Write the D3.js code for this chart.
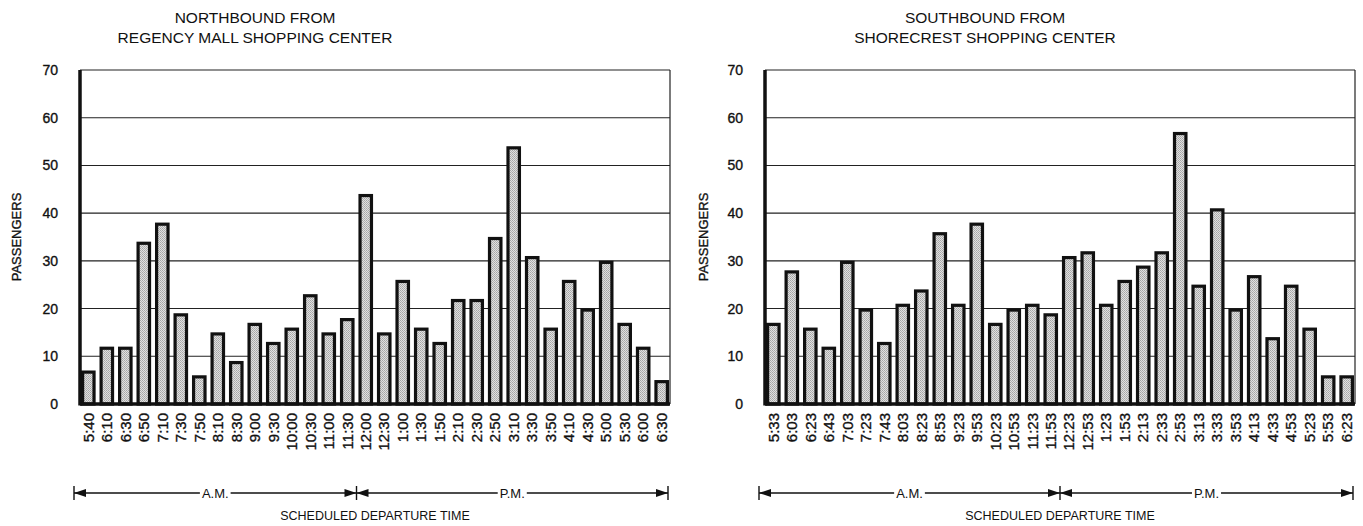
<!DOCTYPE html>
<html>
<head>
<meta charset="utf-8">
<script src="https://cdn.jsdelivr.net/npm/d3@7"></script>
<style>
  html, body { margin: 0; padding: 0; background: #fff; }
  svg text { font-family: "Liberation Sans", Arial, Helvetica, sans-serif; fill: #111; }
  svg text.heavy { stroke: #111; stroke-width: 0.35px; }
</style>
</head>
<body>
<svg id="chart" width="1363" height="526"></svg>
<script>
// ---- Data ----
const northTimes = ["5:40","6:10","6:30","6:50","7:10","7:30","7:50","8:10","8:30","9:00","9:30","10:00","10:30","11:00","11:30","12:00","12:30","1:00","1:30","1:50","2:10","2:30","2:50","3:10","3:30","3:50","4:10","4:30","5:00","5:30","6:00","6:30"];
const northValues = [7,12,12,34,38,19,6,15,9,17,13,16,23,15,18,44,15,26,16,13,22,22,35,54,31,16,26,20,30,17,12,5];
const southTimes = ["5:33","6:03","6:23","6:43","7:03","7:23","7:43","8:03","8:23","8:53","9:23","9:53","10:23","10:53","11:23","11:53","12:23","12:53","1:23","1:53","2:13","2:33","2:53","3:13","3:33","3:53","4:13","4:33","4:53","5:23","5:53","6:23"];
const southValues = [17,28,16,12,30,20,13,21,24,36,21,38,17,20,21,19,31,32,21,26,29,32,57,25,41,20,27,14,25,16,6,6];
const yTicks = [0,10,20,30,40,50,60,70];
const northTitle = ["NORTHBOUND FROM", "REGENCY MALL SHOPPING CENTER"];
const southTitle = ["SOUTHBOUND FROM", "SHORECREST SHOPPING CENTER"];
const northPmStartIndex = 15; // first P.M. departure (12:00)
const southPmStartIndex = 16; // first P.M. departure (12:23)
const yLabel = "PASSENGERS";
const xLabel = "SCHEDULED DEPARTURE TIME";
const amLabel = "A.M.";
const pmLabel = "P.M.";

const svg = d3.select("#chart");

// stipple pattern for bars
const defs = svg.append("defs");
const pat = defs.append("pattern").attr("id", "stipple")
  .attr("width", 2).attr("height", 2).attr("patternUnits", "userSpaceOnUse");
pat.append("rect").attr("width", 2).attr("height", 2).attr("fill", "#e0e0e0");
pat.append("rect").attr("x", 0).attr("y", 0).attr("width", 1).attr("height", 1).attr("fill", "#a6a6a6");
pat.append("rect").attr("x", 1).attr("y", 1).attr("width", 1).attr("height", 1).attr("fill", "#b2b2b2");

function drawChart(cfg) {
  const g = svg.append("g");
  const idx = d3.range(cfg.times.length);
  const x = d3.scaleBand().domain(idx).range([cfg.x0, cfg.x1]).paddingInner(0.22).paddingOuter(0.06);
  const y = d3.scaleLinear().domain([0, 70]).range([cfg.yBottom, cfg.yTop]);

  // gridlines
  g.selectAll("line.grid").data(yTicks.filter(d => d > 0)).join("line")
    .attr("x1", cfg.x0).attr("x2", cfg.x1)
    .attr("y1", d => y(d)).attr("y2", d => y(d))
    .attr("stroke", "#222").attr("stroke-width", 1.1);
  // right border
  g.append("line").attr("x1", cfg.x1).attr("x2", cfg.x1)
    .attr("y1", y(70)).attr("y2", y(0)).attr("stroke", "#222").attr("stroke-width", 1.2);

  // bars
  g.selectAll("rect.bar").data(cfg.values).join("rect")
    .attr("x", (d, i) => x(i) + 1.5)
    .attr("width", x.bandwidth() - 3)
    .attr("y", d => y(d) + 1.5)
    .attr("height", d => y(0) - y(d) - 1.5)
    .attr("fill", "url(#stipple)")
    .attr("stroke", "#111").attr("stroke-width", 3.2);

  // y axis (thick line)
  g.append("line").attr("x1", cfg.x0).attr("x2", cfg.x0)
    .attr("y1", y(70)).attr("y2", y(0) + 1.5).attr("stroke", "#111").attr("stroke-width", 3.5);
  // baseline
  g.append("line").attr("x1", cfg.x0).attr("x2", cfg.x1)
    .attr("y1", y(0)).attr("y2", y(0)).attr("stroke", "#111").attr("stroke-width", 3.5);

  // y ticks labels
  const yAxis = d3.axisLeft(y).tickValues(yTicks).tickSize(0).tickPadding(0);
  const ya = g.append("g").attr("transform", `translate(${cfg.x0 - 22},0)`).call(yAxis);
  ya.select(".domain").remove();
  ya.selectAll("text").attr("font-size", 14).attr("fill", "#111").attr("class", "heavy")
    .style("font-family", '"Liberation Sans", Arial, sans-serif');

  // x tick labels (rotated)
  const xAxis = d3.axisBottom(x).tickSize(0).tickPadding(0).tickFormat(i => cfg.times[i]);
  const xa = g.append("g").attr("transform", `translate(0,${cfg.yBottom + 9})`).call(xAxis);
  xa.select(".domain").remove();
  xa.selectAll("text")
    .attr("font-size", 15).attr("fill", "#111").attr("class", "heavy")
    .style("font-family", '"Liberation Sans", Arial, sans-serif')
    .attr("text-anchor", "end")
    .attr("dy", "0.35em").attr("y", 0).attr("x", 0)
    .attr("transform", "rotate(-90)");

  // y label
  g.append("text").attr("class", "heavy")
    .attr("transform", `translate(${cfg.yLabelX},${(cfg.yTop + cfg.yBottom) / 2}) rotate(-90)`)
    .attr("text-anchor", "middle").attr("dy", "0.35em")
    .attr("font-size", 13).text(yLabel);

  // title
  g.selectAll("text.title").data(cfg.title).join("text")
    .attr("class", "title")
    .attr("x", cfg.titleX).attr("y", (d, i) => 23 + i * 20)
    .attr("text-anchor", "middle").attr("font-size", 15.5).text(d => d);

  // A.M. / P.M. arrows
  const ay = cfg.arrowY;
  const ax0 = cfg.x0 - 6, ax1 = cfg.x1 - 2;
  const divX = x(cfg.pmStartIndex) - x.step() * x.paddingInner() / 2;
  const arrows = g.append("g");
  function seg(xa, xb, label) {
    const mid = (xa + xb) / 2;
    const t = arrows.append("text").attr("x", mid).attr("y", ay).attr("dy", "0.35em")
      .attr("text-anchor", "middle").attr("font-size", 13).text(label);
    const w = t.node().getComputedTextLength() / 2 + 2;
    arrows.append("line").attr("x1", xa).attr("x2", mid - w).attr("y1", ay).attr("y2", ay)
      .attr("stroke", "#111").attr("stroke-width", 1.6);
    arrows.append("line").attr("x1", mid + w).attr("x2", xb).attr("y1", ay).attr("y2", ay)
      .attr("stroke", "#111").attr("stroke-width", 1.6);
    // arrowheads
    arrows.append("path").attr("d", `M${xa},${ay} l12,-4 l0,8 z`).attr("fill", "#111");
    arrows.append("path").attr("d", `M${xb},${ay} l-12,-4 l0,8 z`).attr("fill", "#111");
  }
  seg(ax0, divX, amLabel);
  seg(divX, ax1, pmLabel);
  [ax0, divX, ax1].forEach(xv => {
    arrows.append("line").attr("x1", xv).attr("x2", xv).attr("y1", ay - 7).attr("y2", ay + 7)
      .attr("stroke", "#111").attr("stroke-width", 1.4);
  });

  // x label
  g.append("text").attr("x", (cfg.x0 + cfg.x1) / 2).attr("y", cfg.xLabelY)
    .attr("text-anchor", "middle").attr("dy", "0.35em").attr("font-size", 12.5).text(xLabel);
}

drawChart({ times: northTimes, values: northValues, title: northTitle, pmStartIndex: northPmStartIndex,
  x0: 80, x1: 670, yTop: 70, yBottom: 404, yLabelX: 16, titleX: 255, arrowY: 493, xLabelY: 516 });
drawChart({ times: southTimes, values: southValues, title: southTitle, pmStartIndex: southPmStartIndex,
  x0: 765, x1: 1355, yTop: 70, yBottom: 404, yLabelX: 703, titleX: 985, arrowY: 493, xLabelY: 516 });
</script>
</body>
</html>
